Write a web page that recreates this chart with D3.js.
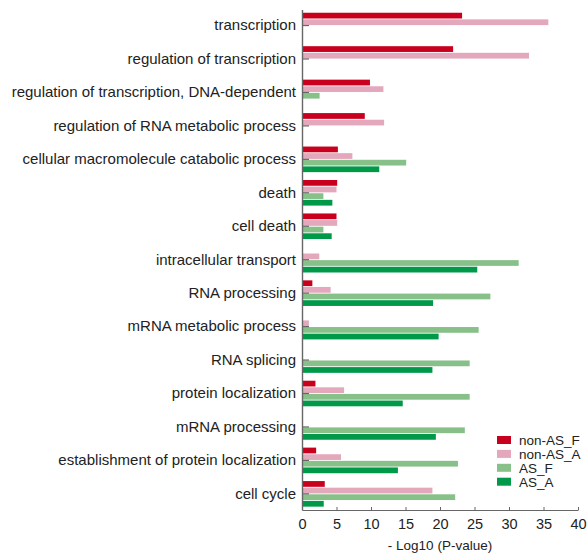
<!DOCTYPE html>
<html>
<head>
<meta charset="utf-8">
<script src="https://cdn.jsdelivr.net/npm/d3@7/dist/d3.min.js"></script>
<style>
  html, body { margin: 0; padding: 0; background: #fff; }
  svg { display: block; font-family: "Liberation Sans", Arial, Helvetica, sans-serif; }
</style>
</head>
<body>
<svg id="chart" width="588" height="560"></svg>
<script>
// GO terms, top to bottom
const categories = [
  "transcription",
  "regulation of transcription",
  "regulation of transcription, DNA-dependent",
  "regulation of RNA metabolic process",
  "cellular macromolecule catabolic process",
  "death",
  "cell death",
  "intracellular transport",
  "RNA processing",
  "mRNA metabolic process",
  "RNA splicing",
  "protein localization",
  "mRNA processing",
  "establishment of protein localization",
  "cell cycle"
];

// -Log10(P-value) per series, in category order
const nonAS_F = [23.2, 21.9, 9.85, 9.1, 5.2, 5.1, 5.0, 0, 1.5, 0, 0, 1.95, 0, 2.05, 3.3];
const nonAS_A = [35.7, 32.9, 11.8, 11.9, 7.3, 5.0, 5.1, 2.5, 4.15, 1.0, 0, 6.1, 0, 5.65, 18.9];
const AS_F    = [0, 0, 2.55, 0, 15.1, 3.1, 3.1, 31.4, 27.3, 25.6, 24.3, 24.3, 23.6, 22.6, 22.2];
const AS_A    = [0, 0, 0, 0, 11.2, 4.4, 4.3, 25.4, 19.0, 19.8, 18.9, 14.6, 19.4, 13.9, 3.15];

const seriesNames = ["non-AS_F", "non-AS_A", "AS_F", "AS_A"];
const seriesValues = [nonAS_F, nonAS_A, AS_F, AS_A];
const seriesColors = ["#c8001e", "#e3a8bc", "#88c08a", "#00994a"];

const xTicks = [0, 5, 10, 15, 20, 25, 30, 35, 40];
const xTitle = "- Log10 (P-value)";

const svg = d3.select("#chart");

const plot = { left: 302, right: 578, top: 9.4, bottom: 510 };

const x = d3.scaleLinear().domain([0, 40]).range([plot.left, plot.right]);

const y = d3.scaleBand()
  .domain(categories)
  .range([plot.top, plot.bottom])
  .paddingInner(0.235)
  .paddingOuter(0.1);

const ySub = d3.scaleBand()
  .domain(seriesNames)
  .range([0, y.bandwidth()])
  .paddingInner(0.13);

const color = d3.scaleOrdinal().domain(seriesNames).range(seriesColors);

// bars
const rows = categories.map((c, i) => ({
  cat: c,
  vals: seriesNames.map((s, k) => ({ series: s, value: seriesValues[k][i] }))
}));

const groups = svg.append("g").selectAll("g")
  .data(rows)
  .join("g")
  .attr("transform", d => `translate(0,${y(d.cat)})`);

groups.selectAll("rect")
  .data(d => d.vals.filter(v => v.value > 0))
  .join("rect")
  .attr("x", x(0))
  .attr("y", d => ySub(d.series))
  .attr("width", d => x(d.value) - x(0))
  .attr("height", ySub.bandwidth())
  .attr("fill", d => color(d.series));

// y axis with ticks pointing into the plot
const yAxis = svg.append("g")
  .attr("transform", `translate(${plot.left},0)`)
  .call(d3.axisLeft(y).tickSizeInner(-7).tickSizeOuter(0).tickPadding(6));
yAxis.select(".domain").attr("stroke", "#666").attr("stroke-width", 1.4);
yAxis.selectAll(".tick line").attr("stroke", "#666").attr("stroke-width", 1.2);
yAxis.selectAll(".tick text")
  .attr("fill", "#222")
  .style("font-size", "15px")
  .style("font-family", "'Liberation Sans', Arial, sans-serif");

// x axis with short upward ticks
const xAxis = svg.append("g")
  .attr("transform", `translate(0,${plot.bottom})`)
  .call(d3.axisBottom(x).tickValues(xTicks).tickSizeInner(-3).tickSizeOuter(0).tickPadding(9));
xAxis.select(".domain").attr("stroke", "#666").attr("stroke-width", 1.2);
xAxis.selectAll(".tick line").attr("stroke", "#666");
xAxis.selectAll(".tick text")
  .attr("fill", "#222")
  .style("font-size", "14.5px")
  .style("font-family", "'Liberation Sans', Arial, sans-serif");

svg.append("text")
  .attr("x", (plot.left + plot.right) / 2)
  .attr("y", 550)
  .attr("text-anchor", "middle")
  .attr("fill", "#222")
  .style("font-size", "13.5px")
  .text(xTitle);

// legend
const legend = svg.append("g").attr("transform", "translate(497,436)");
const li = legend.selectAll("g")
  .data(seriesNames)
  .join("g")
  .attr("transform", (d, i) => `translate(0,${i * 13.9})`);
li.append("rect")
  .attr("width", 14)
  .attr("height", 8)
  .attr("fill", d => color(d));
li.append("text")
  .attr("x", 22)
  .attr("y", 4)
  .attr("dy", "0.36em")
  .attr("fill", "#222")
  .style("font-size", "13.5px")
  .text(d => d);
</script>
</body>
</html>
